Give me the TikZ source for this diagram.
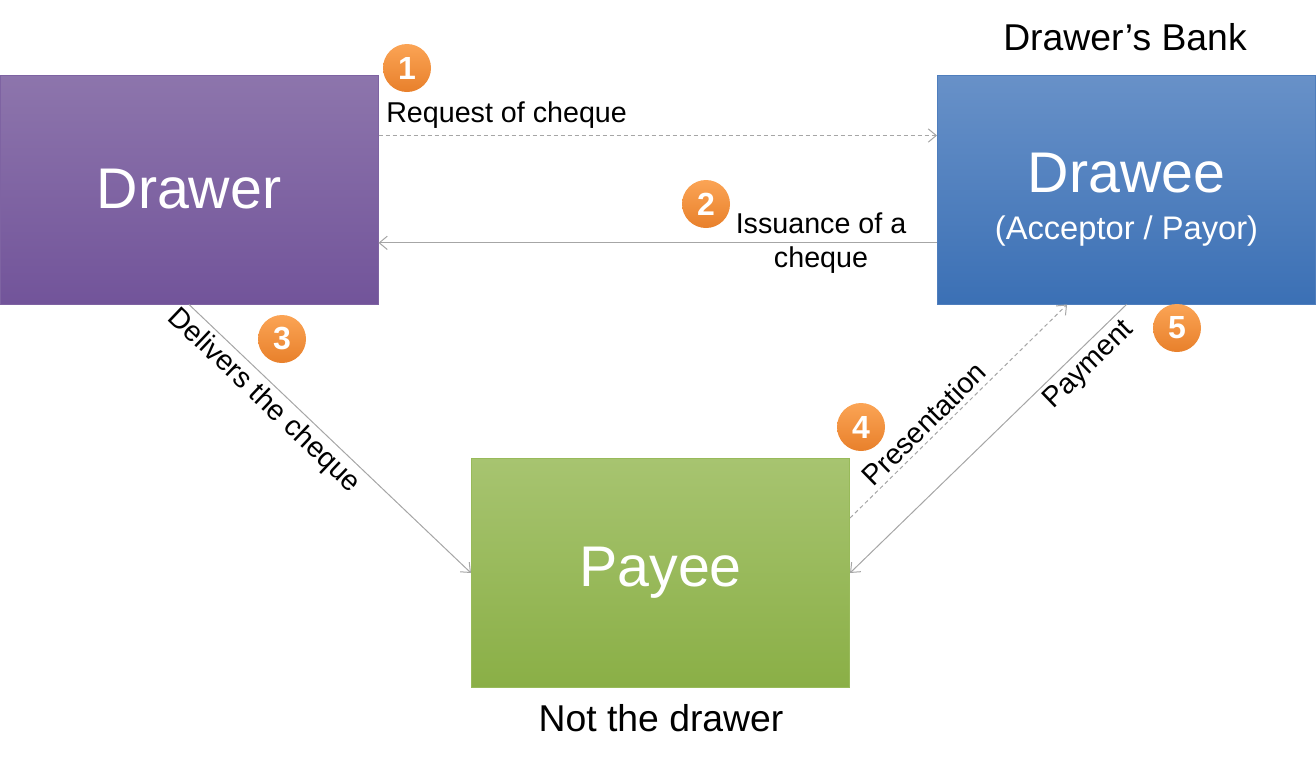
\documentclass[tikz,border=0pt]{standalone}
\usepackage{fontspec}
\setmainfont{Liberation Sans}
\usetikzlibrary{arrows.meta,positioning}

\definecolor{drawertop}{HTML}{8D75AC}
\definecolor{drawerbot}{HTML}{72549A}
\definecolor{drawerline}{HTML}{7E63A2}
\definecolor{draweetop}{HTML}{6891C8}
\definecolor{draweebot}{HTML}{3B70B5}
\definecolor{draweeline}{HTML}{4F7EBD}
\definecolor{payeetop}{HTML}{A7C470}
\definecolor{payeebot}{HTML}{8AAF46}
\definecolor{payeeline}{HTML}{98BA5A}
\definecolor{badgetop}{HTML}{FBA455}
\definecolor{badgebot}{HTML}{E8802B}
\definecolor{linegray}{HTML}{A6A6A6}

\begin{document}
\begin{tikzpicture}[x=0.75pt,y=-0.75pt,
    party/.style={draw=#1, line width=0.75pt, minimum width=283.5pt,
      minimum height=171.75pt, inner sep=0pt, text=white, align=center},
    badge/.style={circle, minimum size=36pt, inner sep=0pt,
      top color=badgetop, bottom color=badgebot, text=white,
      font=\fontsize{24}{24}\selectfont\bfseries},
    flow/.style={draw=linegray, line width=0.75pt,
      -{Straight Barb[length=6pt,width=10pt]}},
    tag/.style={font=\fontsize{21.5}{25}\selectfont}]
  \useasboundingbox (0,0) rectangle (1316,764);

  \node[party=drawerline, top color=drawertop, bottom color=drawerbot,
    font=\fontsize{43}{43}\selectfont] (drawer) at (189,189.5) {Drawer};
  \node[party=draweeline, top color=draweetop, bottom color=draweebot]
    (drawee) at (1126.5,189.5)
    {\fontsize{43}{43}\selectfont\rule{0pt}{45pt}Drawee\\[16pt]
     \fontsize{24.5}{30}\selectfont (Acceptor / Payor)};
  \node[party=payeeline, top color=payeetop, bottom color=payeebot,
    font=\fontsize{43}{43}\selectfont] (payee) at (660.5,573) {Payee};

  \node[font=\fontsize{28}{28}\selectfont] (bank) at (1125,37) {Drawer’s Bank};
  \node[font=\fontsize{28}{28}\selectfont] (notdrawer) at (661,718) {Not the drawer};

  % flows between the parties
  \draw[flow, dash pattern=on 3pt off 2.25pt]
    ([yshift=40.5pt]drawer.east) -- ([yshift=40.5pt]drawee.west);
  \draw[flow] ([yshift=-40pt]drawee.west) -- ([yshift=-40pt]drawer.east);
  \draw[flow] (drawer.south) -- node[tag, sloped, below, pos=0.31] {Delivers the cheque} (payee.west);
  \draw[flow, dash pattern=on 3pt off 2.25pt]
    ([yshift=41.25pt]payee.east) -- node[tag, sloped, above, pos=0.39] {Presentation}
    ([xshift=-44.6pt]drawee.south);
  \draw[flow] (drawee.south) -- node[tag, sloped, below, pos=0.18] {Payment} (payee.east);

  \node[tag, anchor=base west, inner sep=0pt] (request) at (386,122) {Request of cheque};
  \node[tag, align=center] (issue) at (821,243) {Issuance of a\\cheque};

  \node[badge] (b1) at (407,68) {1};
  \node[badge] (b2) at (706,204) {2};
  \node[badge] (b3) at (282,339) {3};
  \node[badge] (b4) at (861,427) {4};
  \node[badge] (b5) at (1177,328) {5};
\end{tikzpicture}
\end{document}
